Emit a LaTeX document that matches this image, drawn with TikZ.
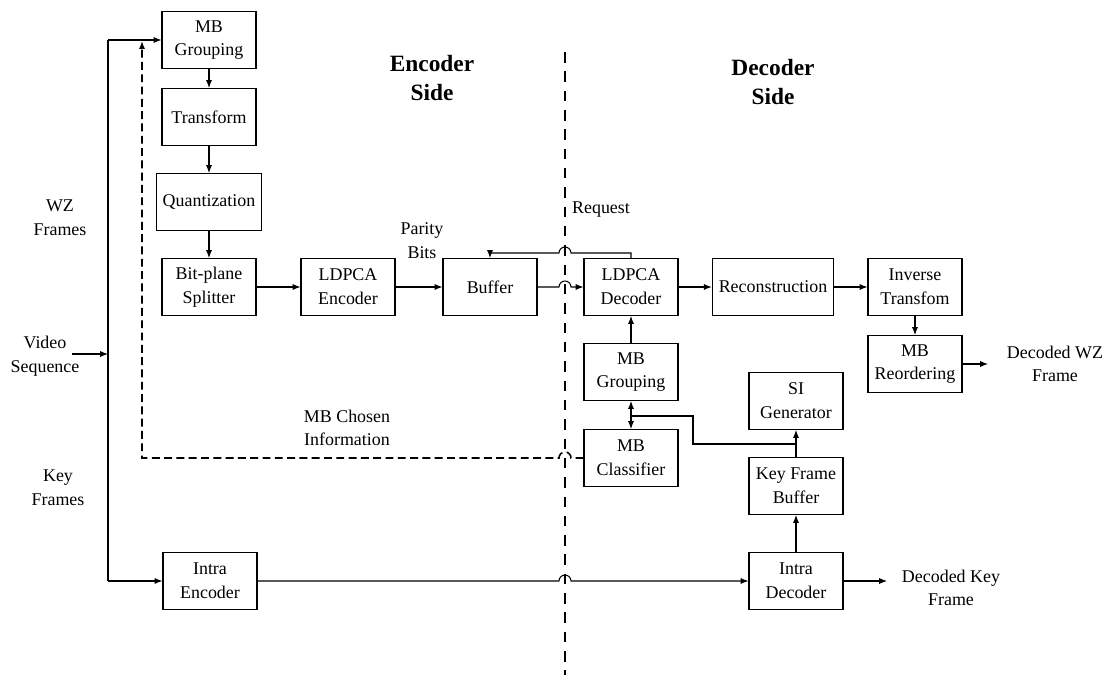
\documentclass[tikz,border=0pt]{standalone}
\usepackage{fontspec}
\setmainfont{Liberation Serif}
\usetikzlibrary{arrows.meta}
\begin{document}
\begin{tikzpicture}[x=0.02cm,y=-0.02cm,line width=0.6pt,
  font=\fontsize{10.2}{13.5}\selectfont,
  >={Latex[length=4.5pt,width=3.5pt]},
  blk/.style={draw,minimum width=1.88cm,minimum height=1.14cm,align=center,inner xsep=0.13cm},
  lbl/.style={align=center},
  side/.style={align=center,font=\fontsize{13.3}{16.5}\selectfont\bfseries},
  sep/.style={line width=0.9pt,dash pattern=on 6pt off 5pt},
  fb/.style={line width=0.9pt,dash pattern=on 4.5pt off 2.5pt}]
  \useasboundingbox (0,0) rectangle (1110,675);
  \node[blk] (mbg) at (209,40) {MB\\Grouping};
  \node[blk] (tr) at (209,117) {Transform};
  \node[blk] (qu) at (209,202) {Quantization};
  \node[blk] (bps) at (209,287) {Bit-plane\\Splitter};
  \node[blk] (lenc) at (348,287) {LDPCA\\Encoder};
  \node[blk] (buf) at (490,287) {Buffer};
  \node[blk] (ldec) at (631,287) {LDPCA\\Decoder};
  \node[blk] (rec) at (773,287) {Reconstruction};
  \node[blk] (itr) at (915,287) {Inverse\\Transfom};
  \node[blk] (mbr) at (915,364) {MB\\Reordering};
  \node[blk] (mbgd) at (631,372) {MB\\Grouping};
  \node[blk] (mbc) at (631,458) {MB\\Classifier};
  \node[blk] (sig) at (796,401) {SI\\Generator};
  \node[blk] (kfb) at (796,486) {Key Frame\\Buffer};
  \node[blk] (idec) at (796,581) {Intra\\Decoder};
  \node[blk] (ienc) at (210,581) {Intra\\Encoder};
  \node[side] (encs) at (432,78) {Encoder\\Side};
  \node[side] (decs) at (773,82) {Decoder\\Side};
  \node[lbl] (wz) at (60,218) {WZ\\Frames};
  \node[lbl] (vs) at (45,356) {Video\\Sequence};
  \node[lbl] (kf) at (58,488) {Key\\Frames};
  \node[lbl] (pb) at (422,241) {Parity\\Bits};
  \node[lbl] (rq) at (601,210) {Request};
  \node[lbl] (mbci) at (347,428) {MB Chosen\\Information};
  \node[lbl] (dwz) at (1055,364) {Decoded WZ\\Frame};
  \node[lbl] (dkf) at (951,588) {Decoded Key\\Frame};
  \coordinate (vin) at (72,354);
  \coordinate (vsp) at (108,354);
  \coordinate (ttop) at (108,40);
  \coordinate (tbot) at (108,581);
  \coordinate (fbup) at (142,41);
  \coordinate (fbc) at (142,458);
  \coordinate (rqt) at (490,253);
  \coordinate (mbj) at (631,416);
  \coordinate (sij) at (796,444);
  \coordinate (dwzo) at (988,364);
  \coordinate (dkfo) at (887,581);
  \coordinate (cut1) at (565,52);
  \coordinate (cut2) at (565,675);
  \draw[sep] (cut1) -- (cut2);
  \draw[->] (vin) -- (vsp);
  \draw (ttop) -- (tbot);
  \draw[->] (ttop) -- (mbg.west);
  \draw[->] (tbot) -- (ienc.west);
  \draw[->] (mbg) -- (tr);
  \draw[->] (tr) -- (qu);
  \draw[->] (qu) -- (bps);
  \draw[->] (bps) -- (lenc);
  \draw[->] (lenc) -- (buf);
  \draw[->] (buf.east) -- (559,287) arc[start angle=180,end angle=0,radius=0.12cm] -- (ldec.west);
  \draw[->] (ldec.north) |- (571,253) arc[start angle=0,end angle=180,radius=0.12cm] -- (rqt) -- (buf.north);
  \draw[->] (ldec) -- (rec);
  \draw[->] (rec) -- (itr);
  \draw[->] (itr) -- (mbr);
  \draw[->] (mbr) -- (dwzo);
  \draw[->] (mbgd) -- (ldec);
  \draw[<->] (mbgd) -- (mbc);
  \draw (mbj) -| (693,444) -- (sij);
  \draw[->] (kfb) -- (sig);
  \draw[->] (idec) -- (kfb);
  \draw[->] (idec) -- (dkfo);
  \draw[->] (ienc.east) -- (559,581) arc[start angle=180,end angle=0,radius=0.12cm] -- (idec.west);
  \draw[fb,->] (mbc.west) -- (571,458) arc[start angle=0,end angle=180,radius=0.12cm] -- (fbc) -- (fbup);
\end{tikzpicture}
\end{document}
